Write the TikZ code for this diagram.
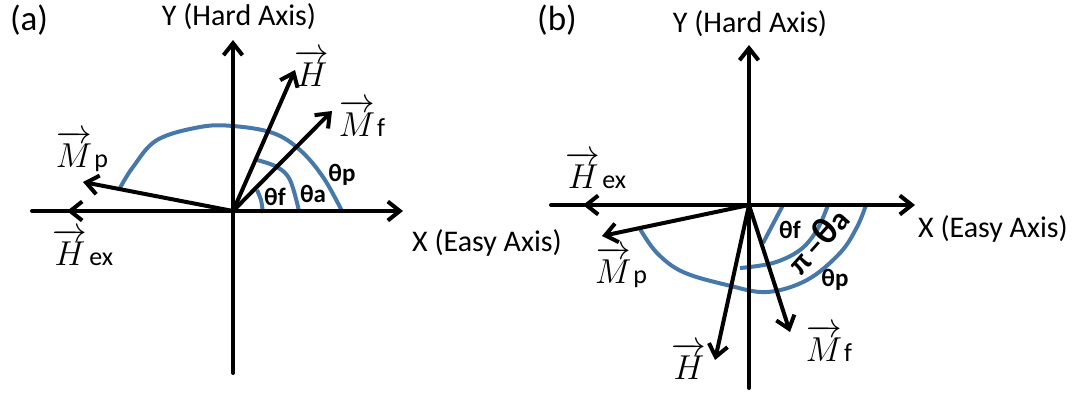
\documentclass[tikz,border=0pt]{standalone}
\usepackage{amsmath}
\usepackage{fontspec}
\setmainfont{Carlito}
\usepackage{tikz}
\usetikzlibrary{arrows.meta}

\definecolor{curveblue}{RGB}{70,120,170}
\newcommand{\veclbl}[2]{$\overrightarrow{#1}$\kern1pt{\fontsize{13}{15}\selectfont #2}}

\begin{document}
\begin{tikzpicture}[
            x=0.5pt, y=-0.5pt,
            axis/.style={
                    line width=2pt, line cap=round, line join=round,
                    -{Straight Barb[length=6pt, width=9.5pt]}
                },
            vecline/.style={axis},
            anglecurve/.style={draw=curveblue, line width=2pt},
            axislbl/.style={font=\fontsize{15}{18}\selectfont},
            panellbl/.style={font=\fontsize{17.5}{20}\selectfont},
            veclabel/.style={font=\fontsize{16}{18}\selectfont, inner sep=0pt},
            anglbl/.style={font=\fontsize{12.5}{14}\selectfont\bfseries, inner sep=0pt}
        ]
        \useasboundingbox (0,0) rectangle (1075,393);

        % panel (a)
        \coordinate (Oa) at (233,211);
        \coordinate (ya) at (233,40);
        \coordinate (yab) at (233,373);
        \coordinate (xa) at (403,211);
        \coordinate (xal) at (32,211);
        \coordinate (Hexa) at (67,211);
        \coordinate (Mpa) at (83,182);
        \coordinate (Ha) at (295,70);
        \coordinate (Mfa) at (332,111);

        \draw[anglecurve] plot[smooth, tension=0.6] coordinates {
                (120,188) (133,167) (157,140) (200,127) (233,126)
                (273,133) (300,150) (323,177) (342,211)};
        \draw[anglecurve] plot[smooth, tension=0.6] coordinates {
                (257,160) (277,167) (290,180) (299,211)};
        \draw[anglecurve] plot[smooth] coordinates {(257,190) (261,200) (263,213)};

        \draw[axis] (yab) -- (ya);
        \draw[axis] (xal) -- (xa);
        \draw[vecline] (Oa) -- (Hexa);
        \draw[vecline] (Oa) -- (Mpa);
        \draw[vecline] (Oa) -- (Ha);
        \draw[vecline] (Oa) -- (Mfa);

        \node[panellbl] (laba) at (29,20) {(a)};
        \node[axislbl] (ylaba) at (239,17) {Y (Hard Axis)};
        \node[axislbl] (xlaba) at (487,243) {X (Easy Axis)};
        \node[veclabel] (Hlaba) at (313,68) {\veclbl{H}{}};
        \node[veclabel] (Mflaba) at (362,118) {\veclbl{M}{f}};
        \node[veclabel] (Mplaba) at (82,151) {\veclbl{M}{p}};
        \node[veclabel] (Hexlaba) at (83,247) {\veclbl{H}{ex}};
        \node[anglbl] (tfa) at (275,197) {θf};
        \node[anglbl] (taa) at (313,194) {θa};
        \node[anglbl] (tpa) at (342,175) {θp};

        % panel (b)
        \coordinate (Ob) at (749,205);
        \coordinate (yb) at (749,45);
        \coordinate (ybb) at (749,388);
        \coordinate (xb) at (915,205);
        \coordinate (xbl) at (551,205);
        \coordinate (Hexb) at (583,205);
        \coordinate (Mpb) at (602,236);
        \coordinate (Hb) at (715,360);
        \coordinate (Mfb) at (790,332);

        \draw[anglecurve] plot[smooth, tension=0.6] coordinates {
                (640,229) (657,253) (683,272) (727,285) (767,292)
                (807,280) (840,253) (857,227) (866,205)};
        \draw[anglecurve] plot[smooth, tension=0.6] coordinates {
                (740,268) (773,263) (800,250) (817,230) (828,205)};
        \draw[anglecurve] (783,205) -- (763,243);

        \draw[axis] (ybb) -- (yb);
        \draw[axis] (xbl) -- (xb);
        \draw[vecline] (Ob) -- (Hexb);
        \draw[vecline] (Ob) -- (Mpb);
        \draw[vecline] (Ob) -- (Hb);
        \draw[vecline] (Ob) -- (Mfb);

        \node[panellbl] (labb) at (557,20) {(b)};
        \node[axislbl] (ylabb) at (750,24) {Y (Hard Axis)};
        \node[axislbl] (xlabb) at (993,229) {X (Easy Axis)};
        \node[veclabel] (Hexlabb) at (596,170) {\veclbl{H}{ex}};
        \node[veclabel] (Mplabb) at (621,267) {\veclbl{M}{p}};
        \node[veclabel] (Hlabb) at (690,361) {\veclbl{H}{}};
        \node[veclabel] (Mflabb) at (829,343) {\veclbl{M}{f}};
        \node[anglbl] (tfb) at (790,230) {θf};
        \node[anglbl, rotate=48, font=\fontsize{15.5}{16}\selectfont\bfseries] (tab) at (817,240)
            {π\,−{\fontsize{19}{19}\selectfont θ}a};
        \node[anglbl] (tpb) at (835,280) {θp};
    \end{tikzpicture}
\end{document}
